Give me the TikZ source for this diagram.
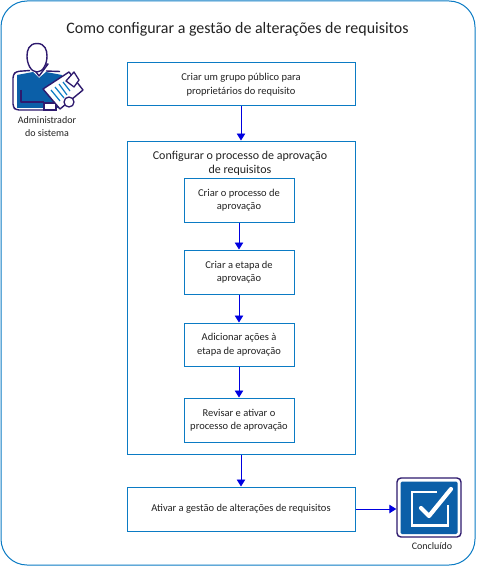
\documentclass[tikz,border=0pt]{standalone}
\usepackage{fontspec}
\setmainfont{Carlito}
\usetikzlibrary{arrows.meta}
\definecolor{edgeblue}{HTML}{0B7BC4}
\definecolor{flowblue}{HTML}{0000E0}
\definecolor{iconblue}{HTML}{0B5FA8}
\definecolor{icondark}{HTML}{2E1A6E}
\definecolor{txt}{HTML}{222222}
\tikzset{
  x=1pt,y=-1pt,
  stepbox/.style={draw=edgeblue,line width=1pt,fill=white,align=center,text=txt,inner sep=0pt,font=\fontsize{10.5}{13.5}\selectfont},
  flow/.style={draw=flowblue,line width=0.9pt,-{Triangle[length=7pt,width=8.5pt]}},
  lbl/.style={align=center,text=txt,inner sep=0pt,font=\fontsize{10}{13}\selectfont},
}
\begin{document}
\begin{tikzpicture}
\useasboundingbox (0,0) rectangle (477,567);
\draw[edgeblue,line width=1pt,fill=white,rounded corners=26pt] (1,1) rectangle (475,565);
\node[inner sep=0pt,text=txt,font=\fontsize{15.95}{18}\selectfont] (title) at (237.5,29) {Como configurar a gestão de alterações de requisitos};

\node[stepbox,minimum width=228pt,minimum height=43pt] (a) at (241,84.5) {Criar um grupo público para\\proprietários do requisito};
\node[stepbox,minimum width=228pt,minimum height=313pt] (b) at (241,297.5) {};
\node[lbl,font=\fontsize{12}{14}\selectfont] (bt) at (240,163) {Configurar o processo de aprovação\\de requisitos};
\node[stepbox,minimum width=110pt,minimum height=44pt] (c1) at (239,200) {Criar o processo de\\aprovação};
\node[stepbox,minimum width=110pt,minimum height=44pt] (c2) at (239,272) {Criar a etapa de\\aprovação};
\node[stepbox,minimum width=110pt,minimum height=43pt] (c3) at (239,344.5) {Adicionar ações à\\etapa de aprovação};
\node[stepbox,minimum width=110pt,minimum height=44pt] (c4) at (239,420) {Revisar e ativar o\\processo de aprovação};
\node[stepbox,minimum width=228pt,minimum height=44pt] (d) at (241,509) {Ativar a gestão de alterações de requisitos};

\draw[flow] (a.south) -- (b.north);
\draw[flow] (c1) -- (c2);
\draw[flow] (c2) -- (c3);
\draw[flow] (c3) -- (c4);
\draw[flow] (b.south) -- (d.north);

% Done icon
\node[draw=icondark,line width=1.4pt,fill=white,rounded corners=4pt,minimum width=64pt,minimum height=59pt,inner sep=0pt] (done) at (429,507.5) {};
\fill[iconblue,rounded corners=1.5pt] (400.5,481.5) rectangle (457.5,534);
\draw[white,line width=2.6pt] (437,492) -- (412,492) -- (412,525.5) -- (448,525.5) -- (448,505);
\draw[white,line width=4.2pt,line cap=round,line join=round] (421,508) -- (429,516) -- (451,489);
\node[lbl] (donel) at (432,546) {Concluído};
\draw[flow] (d.east) -- (d.east -| done.west);

% Admin icon
\fill[iconblue] (17,75) -- (33,72) -- (39,78) -- (46,72) -- (62,75) -- (62,108) -- (17,108) -- cycle;
\draw[icondark,line width=1.4pt,rounded corners=3pt,line join=round] (30,70.5) -- (16,71.5) -- (13,75) -- (13,107) -- (16,110) -- (55,110);
\draw[icondark,line width=1.4pt,line join=round] (21,90) -- (21,102) -- (44,102);
\draw[icondark,line width=1.4pt,fill=white] (44,103) -- (56,103) -- (56,110) -- (44,110) -- cycle;
\draw[icondark,line width=1.4pt,fill=white,line join=round] (30,64) -- (39,76) -- (48,64) -- cycle;
\draw[icondark,line width=1.4pt,fill=white] (37,43.5) .. controls (29,43.5) and (27,50) .. (27,56) .. controls (27,64) and (31,72) .. (37,72) .. controls (43,72) and (47,64) .. (47,56) .. controls (47,50) and (45,43.5) .. (37,43.5) -- cycle;
\draw[icondark,line width=1.4pt] (46,71) -- (60,71.5);
% clipboard
\draw[icondark,line width=1.4pt,fill=white,line join=round] (43,89) -- (69,72) -- (83,90) -- (60,109) -- cycle;
\draw[icondark,line width=1.3pt,fill=white,line join=round] (66,81) -- (74,72) -- (79,80) -- (74,87) -- cycle;
\draw[edgeblue,line width=1.2pt] (51,90) -- (60,101);
\draw[edgeblue,line width=1.2pt] (55,87) -- (64,98);
\draw[edgeblue,line width=1.2pt] (59,84) -- (67,95);
\draw[edgeblue,line width=1.2pt] (63,82) -- (70,91);
\draw[icondark,line width=1.3pt,fill=white] (69,102) circle (5pt);
\node[lbl] (adminl) at (47,126.5) {Administrador\\do sistema};
\end{tikzpicture}
\end{document}
